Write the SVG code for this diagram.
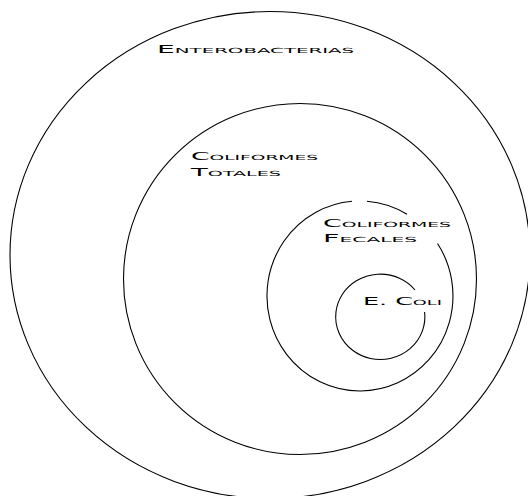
<svg xmlns="http://www.w3.org/2000/svg" width="528" height="496" viewBox="0 0 528 496">
<style>
.ring{fill:none;stroke:#000;stroke-width:1.1}
.lbl{font-family:"DejaVu Sans","Liberation Sans",sans-serif;font-size:10px;font-variant:small-caps;fill:#000}
</style>
<rect width="528" height="496" fill="#fff"/>
<g id="enterobacterias">
<ellipse class="ring" cx="270" cy="255" rx="260" ry="243.5"/>
<text class="lbl" x="157" y="53" textLength="197" lengthAdjust="spacingAndGlyphs">Enterobacterias</text>
</g>
<g id="coliformes-totales">
<ellipse class="ring" cx="300" cy="279" rx="176.5" ry="175.5"/>
<text class="lbl" x="191" y="160" textLength="127" lengthAdjust="spacingAndGlyphs">Coliformes</text>
<text class="lbl" x="191" y="176" textLength="90" lengthAdjust="spacingAndGlyphs">Totales</text>
</g>
<g id="coliformes-fecales">
<path class="ring" d="M367,201.3 A93,95 0 0 1 407,214.3 M437.5,243.5 A93,95 0 1 1 352,201.3"/>
<text class="lbl" x="323" y="227" textLength="128" lengthAdjust="spacingAndGlyphs">Coliformes</text>
<text class="lbl" x="323" y="242" textLength="94" lengthAdjust="spacingAndGlyphs">Fecales</text>
</g>
<g id="e-coli">
<path class="ring" d="M424.6,312 A44.6,42.7 0 1 1 415,290"/>
<text class="lbl" x="363" y="305" textLength="79" lengthAdjust="spacingAndGlyphs">E. Coli</text>
</g>
<g id="connectors"/>
</svg>
